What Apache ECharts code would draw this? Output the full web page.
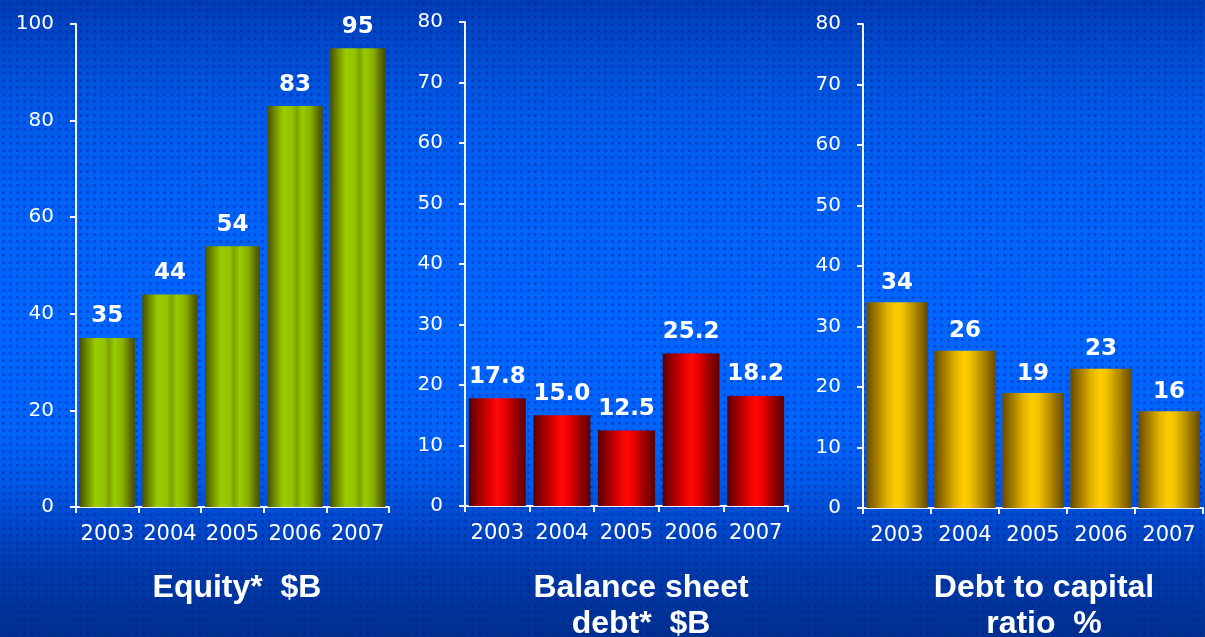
<!DOCTYPE html>
<html>
<head>
<meta charset="utf-8">
<script src="https://cdn.jsdelivr.net/npm/echarts@6/dist/echarts.min.js"></script>
<style>
  html, body { margin: 0; padding: 0; }
  body {
    width: 1205px; height: 637px; overflow: hidden;
    background:
      radial-gradient(circle, rgba(0, 20, 150, 0.45) 0.9px, rgba(0, 0, 0, 0) 1.7px) 0 0 / 7px 7px,
      linear-gradient(to bottom,
        #003cb4 0%, #004ccf 8%, #005ae8 18%, #0062f8 32%, #0066ff 50%,
        #0063fa 68%, #0058e6 76%, #0046c6 83%, #003aa8 90%, #00308f 100%);
  }
  #chart { width: 1205px; height: 637px; }
</style>
</head>
<body>
<div id="chart"></div>
<script>
// Years shown on every panel
const years = ['2003', '2004', '2005', '2006', '2007'];

// Panel values
const equity = [35, 44, 54, 83, 95];
const balanceSheetDebt = [17.8, 15.0, 12.5, 25.2, 18.2];
const debtToCapital = [34, 26, 19, 23, 16];

// Panel captions
const captions = ['Equity*  $B', 'Balance sheet\ndebt*  $B', 'Debt to capital\nratio  %'];

// Value axis ranges
const axisMax = [100, 80, 80];
const axisStep = [20, 10, 10];

// Decimal places for the value labels
const labelDecimals = [0, 1, 0];

const panels = [
  { grid: { left: 76, top: 24, width: 313, height: 483 }, values: equity, captionX: 232, gap: '12%', dist: 10,
    fill: [[0, '#485000'], [0.12, '#6c8600'], [0.28, '#99cc00'], [0.45, '#93c300'], [0.53, '#7ca000'],
           [0.63, '#99cc00'], [0.78, '#86b000'], [0.92, '#5c6a00'], [1, '#464e00']] },
  { grid: { left: 465, top: 22, width: 323, height: 484 }, values: balanceSheetDebt, captionX: 636, gap: '12%', dist: 10,
    fill: [[0, '#580000'], [0.15, '#930000'], [0.35, '#dd0000'], [0.5, '#ff0a0a'], [0.62, '#ee0000'],
           [0.8, '#a00000'], [1, '#5c0000']] },
  { grid: { left: 863, top: 24, width: 340, height: 484 }, values: debtToCapital, captionX: 1039, gap: '10%', dist: 8,
    fill: [[0, '#684c00'], [0.15, '#9e7600'], [0.33, '#e0b000'], [0.48, '#ffcc00'], [0.58, '#f5c400'],
           [0.8, '#ae8600'], [1, '#664a00']] }
];

const white = '#ffffff';
const lineColor = '#f4f4ff';

const option = {
  animation: false,
  backgroundColor: 'transparent',
  title: panels.map((p, i) => ({
    text: captions[i],
    left: p.captionX,
    top: 565,
    textAlign: 'center',
    textStyle: {
      color: white, fontFamily: 'Liberation Sans', fontWeight: 'bold',
      fontSize: 32, lineHeight: 36
    }
  })),
  grid: panels.map(p => p.grid),
  xAxis: panels.map((p, i) => ({
    type: 'category',
    gridIndex: i,
    data: years,
    axisLine: { lineStyle: { color: lineColor, width: 2 } },
    axisTick: { show: true, length: 6, lineStyle: { color: lineColor, width: 2 } },
    axisLabel: {
      color: white, fontFamily: 'DejaVu Sans', fontSize: 21, margin: 17, interval: 0
    }
  })),
  yAxis: panels.map((p, i) => ({
    type: 'value',
    gridIndex: i,
    min: 0,
    max: axisMax[i],
    interval: axisStep[i],
    splitLine: { show: false },
    axisLine: { show: true, lineStyle: { color: lineColor, width: 2 } },
    axisTick: { show: true, length: 6, lineStyle: { color: lineColor, width: 2 } },
    axisLabel: { color: white, fontFamily: 'DejaVu Sans', fontSize: 20, margin: 22 }
  })),
  series: panels.map((p, i) => ({
    type: 'bar',
    xAxisIndex: i,
    yAxisIndex: i,
    data: p.values,
    barCategoryGap: p.gap,
    itemStyle: {
      color: {
        type: 'linear', x: 0, y: 0, x2: 1, y2: 0,
        colorStops: p.fill.map(([offset, color]) => ({ offset, color }))
      }
    },
    label: {
      show: true,
      position: 'top',
      distance: p.dist,
      color: white,
      fontFamily: 'DejaVu Sans',
      fontWeight: 'bold',
      fontSize: 23,
      formatter: d => d.value.toFixed(labelDecimals[i])
    }
  }))
};

const chart = echarts.init(document.getElementById('chart'), null, { renderer: 'canvas' });
chart.setOption(option);
</script>
</body>
</html>
